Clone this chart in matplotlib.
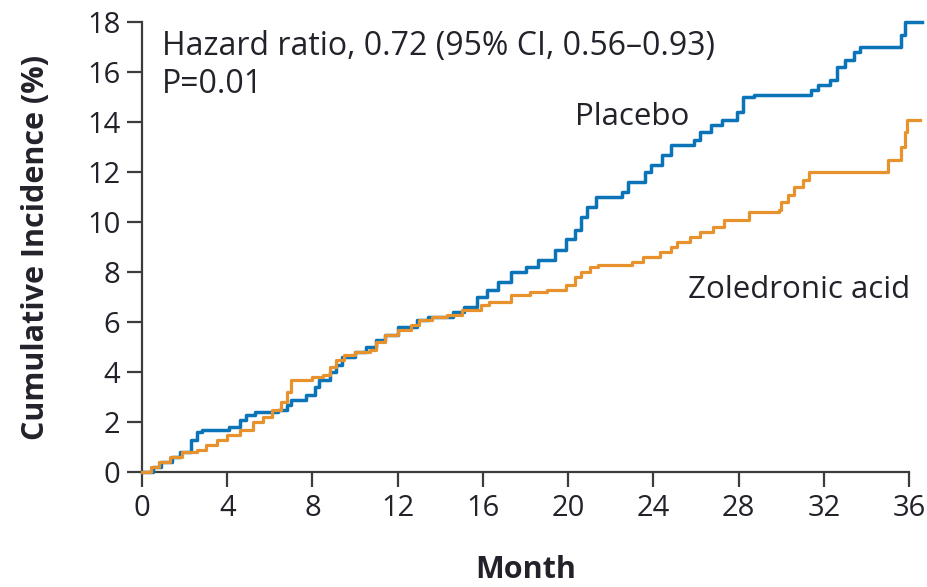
import numpy as np
import matplotlib.pyplot as plt

# step curves (month, cumulative incidence %)
placebo_month = [0, 0.5, 0.9, 1.4, 1.8, 2.3, 2.6, 2.8, 4.1, 4.6, 4.9, 5.3, 6.4, 6.8, 7.0,
                 7.7, 8.1, 8.3, 8.8, 9.1, 9.4, 10.0, 10.5, 11.0, 11.4, 12.0, 12.9, 13.4,
                 14.6, 15.1, 15.7, 16.2, 16.7, 17.3, 18.0, 18.6, 19.4, 19.9, 20.3, 20.6,
                 20.9, 21.3, 22.5, 22.8, 23.6, 23.9, 24.4, 24.8, 25.9, 26.2, 26.7, 27.2,
                 27.9, 28.2, 28.7, 31.4, 31.7, 32.3, 32.6, 33.0, 33.4, 33.7, 35.6, 35.8, 36.6]
placebo_pct = [0, 0.2, 0.4, 0.6, 0.8, 1.3, 1.6, 1.7, 1.8, 2.1, 2.3, 2.4, 2.5, 2.7, 2.9,
               3.1, 3.4, 3.7, 4.0, 4.3, 4.6, 4.8, 5.0, 5.3, 5.5, 5.8, 6.1, 6.2,
               6.4, 6.6, 7.0, 7.3, 7.6, 8.0, 8.2, 8.5, 8.9, 9.3, 9.7, 10.2,
               10.6, 11.0, 11.2, 11.6, 12.0, 12.3, 12.7, 13.1, 13.3, 13.6, 13.9, 14.1,
               14.4, 15.0, 15.1, 15.3, 15.5, 15.7, 16.2, 16.5, 16.8, 17.0, 17.5, 18.0, 18.0]

zol_month = [0, 0.4, 0.8, 1.3, 1.9, 2.6, 3.0, 3.5, 4.0, 4.6, 5.2, 5.7, 6.1, 6.5, 6.8, 7.0,
             8.0, 8.5, 8.8, 9.1, 9.5, 10.0, 10.7, 11.0, 11.4, 12.0, 12.6, 13.0, 13.6,
             14.3, 15.0, 15.9, 16.3, 17.3, 18.2, 19.0, 19.9, 20.3, 20.6, 21.0, 21.4,
             23.0, 23.5, 24.3, 24.8, 25.1, 25.7, 26.2, 26.8, 27.3, 28.5, 29.9, 30.0,
             30.3, 30.6, 31.0, 31.3, 35.0, 35.6, 35.8, 35.9, 36.5]
zol_pct = [0, 0.2, 0.4, 0.6, 0.8, 0.9, 1.1, 1.3, 1.5, 1.7, 2.0, 2.2, 2.5, 2.8, 3.2, 3.7,
           3.8, 3.9, 4.2, 4.5, 4.7, 4.8, 4.9, 5.2, 5.5, 5.7, 5.9, 6.1, 6.2,
           6.3, 6.5, 6.7, 6.8, 7.1, 7.2, 7.3, 7.5, 7.8, 8.0, 8.2, 8.3,
           8.4, 8.6, 8.8, 9.0, 9.2, 9.4, 9.6, 9.8, 10.1, 10.4, 10.5, 10.8,
           11.1, 11.4, 11.7, 12.0, 12.5, 13.0, 13.6, 14.1, 14.1]

x_ticks = [0, 4, 8, 12, 16, 20, 24, 28, 32, 36]
y_ticks = [0, 2, 4, 6, 8, 10, 12, 14, 16, 18]

txt = '#24212a'
spine = '#3c3c3c'
blue = '#0b73b7'
orange = '#e8922e'

plt.rcParams['font.family'] = ['Open Sans', 'DejaVu Sans']

fig = plt.figure(figsize=(9.28, 5.87), dpi=100)
ax = fig.add_axes([142 / 928, 115 / 587, 780 / 928, 450 / 587])

ax.step(placebo_month, placebo_pct, where='post', color=blue, lw=2.5, clip_on=False, zorder=3)
ax.step(zol_month, zol_pct, where='post', color=orange, lw=2.3, clip_on=False, zorder=3)

ax.set_xlim(0, 36.6)
ax.set_ylim(0, 18)
ax.set_xticks(x_ticks)
ax.set_yticks(y_ticks)
ax.spines[['top', 'right']].set_visible(False)
ax.spines['bottom'].set_bounds(0, 36)
for s in ['left', 'bottom']:
    ax.spines[s].set_color(spine)
    ax.spines[s].set_linewidth(1.6)
ax.tick_params(direction='out', length=10.5, width=1.6, color=spine,
               labelsize=21, labelcolor=txt)
ax.tick_params(axis='x', pad=5)
ax.tick_params(axis='y', pad=5)

ax.set_xlabel('Month', fontsize=22, fontweight='bold', color=txt)
ax.set_ylabel('Cumulative Incidence (%)', fontsize=22, fontweight='bold', color=txt)
ax.xaxis.set_label_coords(0.5 * 767 / 780, (472 - 570) / 450)
ax.xaxis.label.set_va('center')
ax.yaxis.set_label_coords((36 - 142) / 780, 0.5)
ax.yaxis.label.set_va('center')

# two separate lines so the boxes stay apart from the "Placebo" label
ax.text(0.94, 17.0, 'Hazard ratio, 0.72 (95% CI, 0.56\u20130.93)', fontsize=23,
        color=txt, va='center', ha='left')
ax.text(0.94, 15.5, 'P=0.01', fontsize=23, color=txt, va='center', ha='left')
ax.text(20.3, 14.2, 'Placebo', fontsize=22.5, color=txt, va='center', ha='left')
ax.text(25.6, 7.3, 'Zoledronic acid', fontsize=22.5, color=txt, va='center', ha='left')

fig.savefig('out.png', dpi=100)
